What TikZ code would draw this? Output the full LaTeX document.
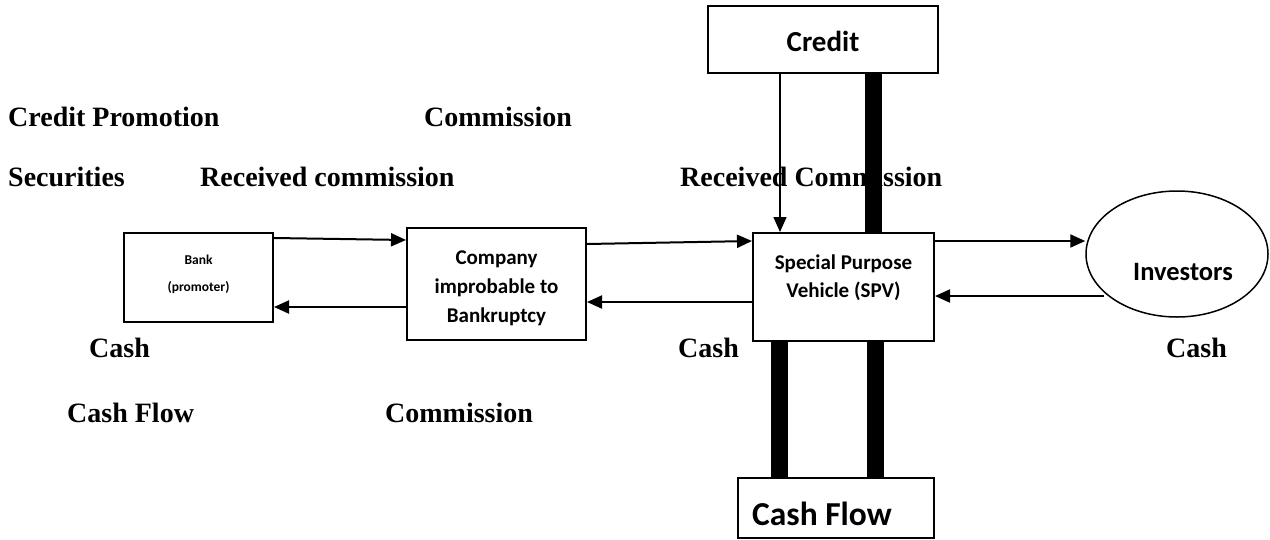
\documentclass[tikz,border=0pt]{standalone}
\usepackage{fontspec}
\newfontfamily\boxfont{Carlito}[BoldFont={Carlito Bold}]
\newfontfamily\lblfont{Liberation Serif}
\usetikzlibrary{arrows.meta,shapes.geometric,calc}
\tikzset{
  box/.style={draw, line width=2pt, inner sep=0pt, align=center},
  bx/.style 2 args={font=\boxfont\fontsize{#1}{#2}\selectfont\bfseries, align=center, inner sep=0pt},
  lbl/.style={anchor=base west, inner sep=0pt, font=\lblfont\fontsize{28}{32}\selectfont\bfseries},
  arr/.style={line width=2pt, -{Triangle[length=15pt,width=13pt]}},
  thin/.style={line width=1.5pt, -{Triangle[length=15pt,width=13pt]}},
  bar/.style={line width=17pt}
}
\begin{document}
\begin{tikzpicture}[x=1pt,y=-1pt]
\useasboundingbox (0,0) rectangle (1270,539);
% labels
\node[lbl] (l1) at (8,126) {Credit Promotion};
\node[lbl] (l2) at (424,126) {Commission};
\node[lbl] (l3) at (8,186) {Securities};
\node[lbl] (l4) at (200,186) {Received commission};
\node[lbl] (l5) at (680,186) {Received Commission};
\node[lbl] (l6) at (89,357) {Cash};
\node[lbl] (l7) at (678,357) {Cash};
\node[lbl] (l8) at (1166,357) {Cash};
\node[lbl] (l9) at (67,422) {Cash Flow};
\node[lbl] (l10) at (385,422) {Commission};
% boxes
\node[box, minimum width=149pt, minimum height=89pt] (bank) at (198.5,277.5) {};
\node[bx={13.5}{27}] (bankt) at (198.5,274) {Bank\\(promoter)};
\node[box, minimum width=179pt, minimum height=112pt] (comp) at (496.5,284) {};
\node[bx={21}{29}] (compt) at (496.5,288) {Company\\improbable to\\Bankruptcy};
\node[box, minimum width=181pt, minimum height=108pt] (spv) at (843.5,287) {};
\node[bx={21}{28}] (spvt) at (843.5,278) {Special Purpose\\Vehicle (SPV)};
\node[box, minimum width=230pt, minimum height=67pt] (cred) at (823,39.5) {};
\node[bx={29}{34}] (credt) at (823,41) {Credit};
\node[box, minimum width=196pt, minimum height=60pt] (cf) at (836,508) {};
\node[bx={33.5}{38}] (cft) at (822,514) {Cash Flow};
\node[draw, ellipse, line width=1.5pt, minimum width=182pt, minimum height=126pt, inner sep=0pt] (inv) at (1177,254) {};
\node[bx={26.5}{30}] (invt) at (1183,272) {Investors};
% connectors
\draw[arr] (bank.east |- 0,238) -- (comp.west |- 0,240);
\draw[arr] (comp.west |- 0,307) -- (bank.east |- 0,307);
\draw[arr] (comp.east |- 0,244) -- (spv.west |- 0,241);
\draw[arr] (spv.west |- 0,302) -- (comp.east |- 0,302);
\draw[arr] (spv.east |- 0,241) -- (inv.west |- 0,241);
\draw[arr] ($(inv.center)+(-73,42)$) -- (spv.east |- 0,296);
\draw[thin] (cred.south -| 780,0) -- (spv.north -| 780,0);
\draw[bar] (cred.south -| 873.5,0) -- (spv.north -| 873.5,0);
\draw[bar] (spv.south -| 779.5,0) -- (cf.north -| 779.5,0);
\draw[bar] (spv.south -| 875,0) -- (cf.north -| 875,0);
\end{tikzpicture}
\end{document}
